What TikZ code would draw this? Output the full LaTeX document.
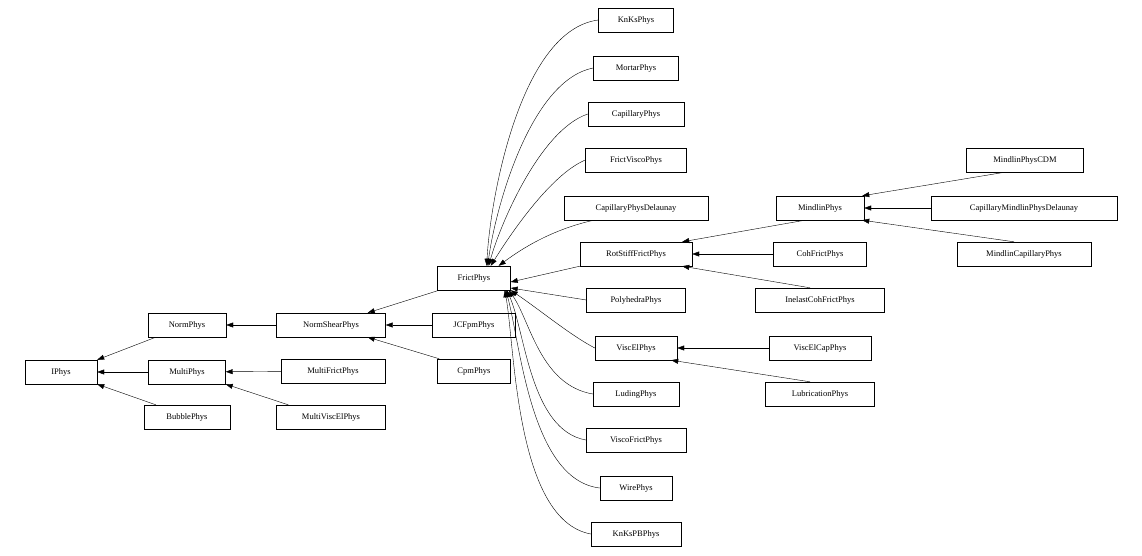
\documentclass[tikz,border=0pt]{standalone}
\usepackage{fontspec}
\setmainfont{Liberation Serif}
\usetikzlibrary{arrows.meta}
\begin{document}
\begin{tikzpicture}[x=1pt,y=-1pt,
 cls/.style={draw,thin,minimum height=24pt,inner xsep=6pt,font=\fontsize{8.5}{10}\selectfont,fill=white},
 inh/.style={draw,thin,-{Triangle[length=7pt,width=5pt]}}]
\useasboundingbox (0,0) rectangle (1142,556);
\node[cls,minimum width=72pt] (IPhys) at (61,372) {IPhys};
\node[cls,minimum width=78pt] (NormPhys) at (187,325) {NormPhys};
\node[cls,minimum width=77pt] (MultiPhys) at (187,372) {MultiPhys};
\node[cls,minimum width=86pt] (BubblePhys) at (187,417) {BubblePhys};
\node[cls,minimum width=109pt] (NormShearPhys) at (331,325) {NormShearPhys};
\node[cls,minimum width=104pt] (MultiFrictPhys) at (333,371) {MultiFrictPhys};
\node[cls,minimum width=109pt] (MultiViscElPhys) at (331,417) {MultiViscElPhys};
\node[cls,minimum width=83pt] (JCFpmPhys) at (474,325) {JCFpmPhys};
\node[cls,minimum width=73pt] (CpmPhys) at (474,371) {CpmPhys};
\node[cls,minimum width=73pt] (FrictPhys) at (474,278) {FrictPhys};
\node[cls,minimum width=75pt] (KnKsPhys) at (636,20) {KnKsPhys};
\node[cls,minimum width=85pt] (MortarPhys) at (636,68) {MortarPhys};
\node[cls,minimum width=96pt] (CapillaryPhys) at (636,114) {CapillaryPhys};
\node[cls,minimum width=101pt] (FrictViscoPhys) at (636,160) {FrictViscoPhys};
\node[cls,minimum width=144pt] (CapillaryPhysDelaunay) at (636,208) {CapillaryPhysDelaunay};
\node[cls,minimum width=112pt] (RotStiffFrictPhys) at (636,254) {RotStiffFrictPhys};
\node[cls,minimum width=99pt] (PolyhedraPhys) at (636,300) {PolyhedraPhys};
\node[cls,minimum width=82pt] (ViscElPhys) at (636,348) {ViscElPhys};
\node[cls,minimum width=86pt] (LudingPhys) at (636,394) {LudingPhys};
\node[cls,minimum width=100pt] (ViscoFrictPhys) at (636,440) {ViscoFrictPhys};
\node[cls,minimum width=72pt] (WirePhys) at (636,488) {WirePhys};
\node[cls,minimum width=90pt] (KnKsPBPhys) at (636,534) {KnKsPBPhys};
\node[cls,minimum width=88pt] (MindlinPhys) at (820,208) {MindlinPhys};
\node[cls,minimum width=93pt] (CohFrictPhys) at (820,254) {CohFrictPhys};
\node[cls,minimum width=129pt] (InelastCohFrictPhys) at (820,300) {InelastCohFrictPhys};
\node[cls,minimum width=102pt] (ViscElCapPhys) at (820,348) {ViscElCapPhys};
\node[cls,minimum width=109pt] (LubricationPhys) at (820,394) {LubricationPhys};
\node[cls,minimum width=117pt] (MindlinPhysCDM) at (1025,160) {MindlinPhysCDM};
\node[cls,minimum width=186pt] (CapillaryMindlinPhysDelaunay) at (1024,208) {CapillaryMindlinPhysDelaunay};
\node[cls,minimum width=134pt] (MindlinCapillaryPhys) at (1024,254) {MindlinCapillaryPhys};

\draw[inh] (NormPhys.south west) ++(8,0) coordinate (a1) (a1) -- (IPhys.north east);
\draw[inh] (MultiPhys) -- (IPhys);
\draw[inh] ([xshift=12pt]BubblePhys.north west) -- (IPhys.south east);
\draw[inh] (NormShearPhys) -- (NormPhys);
\draw[inh] (MultiFrictPhys) -- (MultiPhys);
\draw[inh] ([xshift=12pt]MultiViscElPhys.north west) -- (MultiPhys.south east);
\draw[inh] ([xshift=2pt]FrictPhys.south west) -- ([xshift=-18pt]NormShearPhys.north east);
\draw[inh] (JCFpmPhys) -- (NormShearPhys);
\draw[inh] ([xshift=2pt]CpmPhys.north west) -- ([xshift=-18pt]NormShearPhys.south east);
\draw[inh] (KnKsPhys.west) .. controls (520,30) and (490,200) .. ([xshift=-24pt]FrictPhys.north east);
\draw[inh] (MortarPhys.west) .. controls (530,80) and (495,210) .. ([xshift=-23pt]FrictPhys.north east);
\draw[inh] (CapillaryPhys.west) .. controls (540,130) and (500,225) .. ([xshift=-22pt]FrictPhys.north east);
\draw[inh] (FrictViscoPhys.west) .. controls (550,175) and (510,235) .. ([xshift=-20pt]FrictPhys.north east);
\draw[inh] ([xshift=30pt]CapillaryPhysDelaunay.south west) .. controls (550,230) and (520,250) .. ([xshift=-12pt]FrictPhys.north east);
\draw[inh] (RotStiffFrictPhys.south west) -- ([yshift=-4pt]FrictPhys.east);
\draw[inh] (PolyhedraPhys.west) -- ([yshift=-10pt]FrictPhys.east);
\draw[inh] (ViscElPhys.west) .. controls (570,335) and (540,310) .. (FrictPhys.south east);
\draw[inh] (LudingPhys.west) .. controls (540,385) and (530,320) .. ([xshift=-2pt]FrictPhys.south east);
\draw[inh] (ViscoFrictPhys.west) .. controls (530,430) and (525,330) .. ([xshift=-4pt]FrictPhys.south east);
\draw[inh] (WirePhys.west) .. controls (530,480) and (520,340) .. ([xshift=-5pt]FrictPhys.south east);
\draw[inh] (KnKsPBPhys.west) .. controls (515,520) and (515,345) .. ([xshift=-6pt]FrictPhys.south east);
\draw[inh] ([xshift=-15pt]MindlinPhys.south) -- ([xshift=-10pt]RotStiffFrictPhys.north east);
\draw[inh] (CohFrictPhys) -- (RotStiffFrictPhys);
\draw[inh] ([xshift=-10pt]InelastCohFrictPhys.north) -- ([xshift=-10pt]RotStiffFrictPhys.south east);
\draw[inh] (ViscElCapPhys) -- (ViscElPhys);
\draw[inh] ([xshift=-10pt]LubricationPhys.north) -- ([xshift=-6pt]ViscElPhys.south east);
\draw[inh] ([xshift=-20pt]MindlinPhysCDM.south) -- ([xshift=-2pt]MindlinPhys.north east);
\draw[inh] (CapillaryMindlinPhysDelaunay) -- (MindlinPhys);
\draw[inh] ([xshift=-10pt]MindlinCapillaryPhys.north) -- ([xshift=-2pt]MindlinPhys.south east);
\end{tikzpicture}
\end{document}
